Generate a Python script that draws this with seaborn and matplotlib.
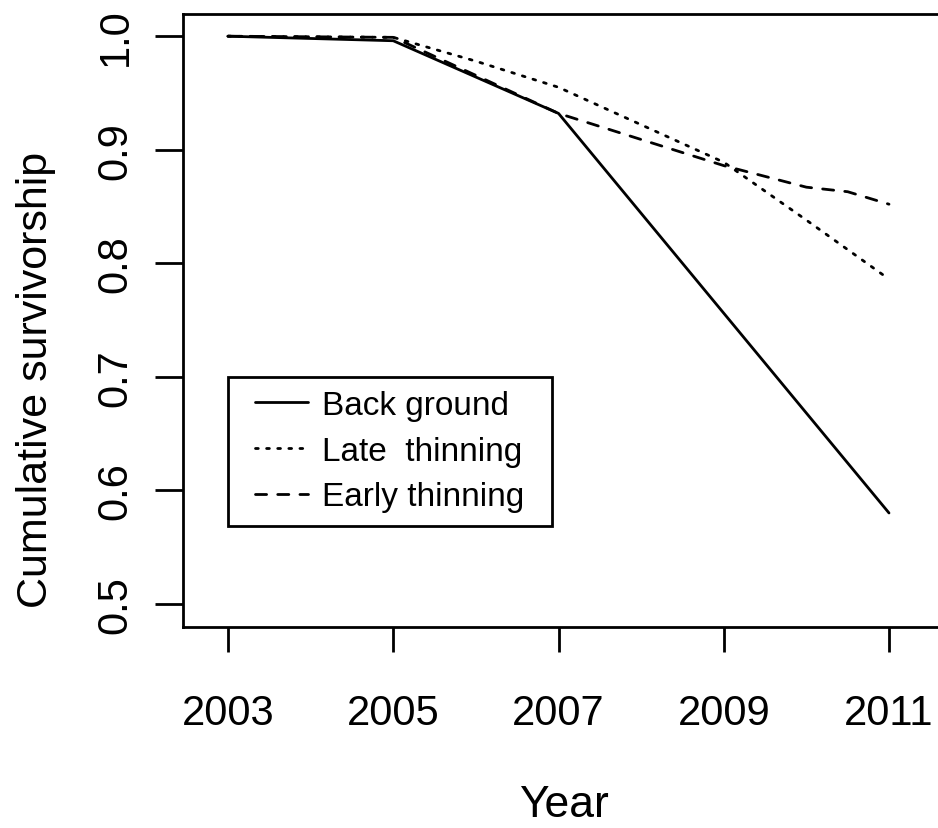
import numpy as np
import pandas as pd
import matplotlib
matplotlib.use("Agg")
import matplotlib.pyplot as plt
import seaborn as sns
from matplotlib.lines import Line2D
from matplotlib.legend_handler import HandlerLine2D

# ---- data ----
series_names = ["Back ground", "Late  thinning", "Early thinning"]

years_background = [2003, 2005, 2007, 2009, 2011]
surv_background = [1.000, 0.996, 0.932, 0.756, 0.580]

years_late = [2003, 2005, 2006, 2007, 2008, 2009, 2010, 2011]
surv_late = [1.000, 0.999, 0.978, 0.955, 0.922, 0.889, 0.838, 0.786]

years_early = [2003, 2005, 2007, 2008, 2009, 2010, 2010.5, 2011]
surv_early = [1.000, 0.999, 0.932, 0.909, 0.886, 0.867, 0.863, 0.852]

x_ticks = [2003, 2005, 2007, 2009, 2011]
y_ticks = [0.5, 0.6, 0.7, 0.8, 0.9, 1.0]
y_tick_labels = ["0.5", "0.6", "0.7", "0.8", "0.9", "1.0"]

df = pd.concat([
    pd.DataFrame({"Year": years_background, "Surv": surv_background, "Series": series_names[0]}),
    pd.DataFrame({"Year": years_late, "Surv": surv_late, "Series": series_names[1]}),
    pd.DataFrame({"Year": years_early, "Surv": surv_early, "Series": series_names[2]}),
], ignore_index=True)

# ---- style ----
sns.set_style("white")
plt.rcParams["font.family"] = ["Liberation Sans", "DejaVu Sans"]
plt.rcParams["lines.dash_capstyle"] = "round"
plt.rcParams["lines.solid_capstyle"] = "round"
plt.rcParams["text.color"] = "black"
plt.rcParams["axes.labelcolor"] = "black"
plt.rcParams["xtick.color"] = "black"
plt.rcParams["ytick.color"] = "black"

W, H = 938, 829
fig = plt.figure(figsize=(W / 100, H / 100), dpi=100)
ax_left, ax_right, ax_top, ax_bottom = 183, 945, 14.5, 627.5
ax = fig.add_axes([ax_left / W, (H - ax_bottom) / H,
                   (ax_right - ax_left) / W, (ax_bottom - ax_top) / H])

lw = 2.0
sns.lineplot(data=df, x="Year", y="Surv", style="Series", style_order=series_names,
             dashes={series_names[0]: "", series_names[1]: (1, 3), series_names[2]: (4, 4)},
             color="black", linewidth=lw, estimator=None, sort=False, legend=False, ax=ax)

px_per_year = (889 - 228) / 8.0
ax.set_xlim(2003 - (228 - ax_left) / px_per_year, 2003 + (ax_right - 228) / px_per_year)
ax.set_ylim(0.48, 1.02)

ax.set_xticks(x_ticks)
ax.set_xticklabels([str(t) for t in x_ticks])
ax.set_yticks(y_ticks)
ax.set_yticklabels(y_tick_labels)

for s in ax.spines.values():
    s.set_linewidth(lw)
    s.set_color("black")

ax.tick_params(axis="x", direction="out", length=18, width=lw, pad=30, labelsize=30,
               colors="black", bottom=True)
ax.tick_params(axis="y", direction="out", length=20, width=lw, pad=14, labelsize=30,
               colors="black", left=True, labelrotation=90)
for lab in ax.get_yticklabels():
    lab.set_va("center")

ax.set_xlabel("Year", fontsize=32)
ax.set_ylabel("Cumulative survivorship", fontsize=31)
ax.xaxis.set_label_coords(0.5, -0.257)
ax.yaxis.set_label_coords((56 - ax_left) / (ax_right - ax_left), (ax_bottom - 380) / (ax_bottom - ax_top))

# ---- legend ----
handles = ax.get_lines()[:3]
leg_w = (552 - 228) / px_per_year
leg = ax.legend(handles, series_names, loc="upper left",
                bbox_to_anchor=(2003, 0.5, leg_w, 0.2), bbox_transform=ax.transData,
                mode="expand", borderaxespad=0, borderpad=0.4, fontsize=24,
                handlelength=2.0, handletextpad=0.42, labelspacing=0.44,
                frameon=True, fancybox=False, edgecolor="black", framealpha=1,
                handler_map={Line2D: HandlerLine2D(xpad=0.41)})
leg.get_frame().set_linewidth(lw)
for t in leg.get_texts():
    t.set_color("black")

fig.savefig("out.png", dpi=100)
